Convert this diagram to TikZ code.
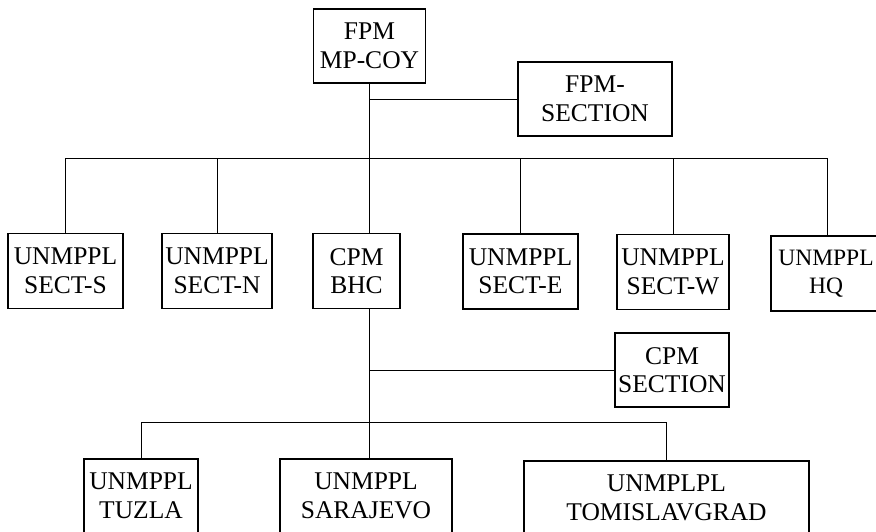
\documentclass[tikz,border=0pt]{standalone}
\usepackage{fontspec}
\setmainfont{Liberation Serif}
\begin{document}
\begin{tikzpicture}[x=1pt,y=-1pt]
\tikzset{
  box/.style={draw, line width=1.2pt, align=center, inner sep=0pt,
    font=\fontsize{25.5}{28.5}\selectfont},
  wire/.style={line width=0.9pt}
}
\useasboundingbox (0,0) rectangle (876,531);
\clip (0,0) rectangle (876,531);
% top
\node[box, minimum width=112, minimum height=74] (fpm) at (369.5,46) {FPM\\MP-COY};
\node[box, minimum width=154, minimum height=74] (fpmsec) at (595,99) {FPM-\\SECTION};
% middle row
\node[box, minimum width=115, minimum height=75] (sects) at (65.5,271) {UNMPPL\\SECT-S};
\node[box, minimum width=110, minimum height=75] (sectn) at (217,271) {UNMPPL\\SECT-N};
\node[box, minimum width=87, minimum height=75] (bhc) at (356.5,271) {CPM\\BHC};
\node[box, minimum width=115, minimum height=75] (secte) at (520.5,271.5) {UNMPPL\\SECT-E};
\node[box, minimum width=112, minimum height=75] (sectw) at (673,272) {UNMPPL\\SECT-W};
\node[box, minimum width=110, minimum height=75, font=\fontsize{23.5}{28.5}\selectfont] (hq) at (826,273.5) {UNMPPL\\HQ};
% cpm section
\node[box, minimum width=114, minimum height=74] (cpmsec) at (672,370) {CPM\\SECTION};
% bottom row
\node[box, minimum width=114, minimum height=74] (tuzla) at (141,496) {UNMPPL\\TUZLA};
\node[box, minimum width=172, minimum height=74] (saraj) at (366,496) {UNMPPL\\SARAJEVO};
\node[box, minimum width=285, minimum height=74] (tomis) at (666.5,498) {UNMPLPL\\TOMISLAVGRAD};
% junctions
\coordinate (j1) at (369.5,99);
\coordinate (bus) at (369.5,158);
\coordinate (j2) at (369.5,370);
\coordinate (bus2) at (369.5,422);
\coordinate (hqtop) at (827,158);
% connectors
\draw[wire] (fpm.south) -- (bus);
\draw[wire] (j1) -- (fpmsec.west);
\draw[wire] (sects.north |- bus) -- (hqtop);
\draw[wire] (sects.north |- bus) -- (sects.north);
\draw[wire] (sectn.north |- bus) -- (sectn.north);
\draw[wire] (bus) -- (bus |- bhc.north);
\draw[wire] (secte.north |- bus) -- (secte.north);
\draw[wire] (sectw.north |- bus) -- (sectw.north);
\draw[wire] (hqtop) -- (hqtop |- hq.north);
\draw[wire] (bus |- bhc.south) -- (bus |- saraj.north);
\draw[wire] (j2) -- (cpmsec.west);
\draw[wire] (tuzla.north |- bus2) -- (tomis.north |- bus2);
\draw[wire] (tuzla.north |- bus2) -- (tuzla.north);
\draw[wire] (tomis.north |- bus2) -- (tomis.north);
\end{tikzpicture}
\end{document}
